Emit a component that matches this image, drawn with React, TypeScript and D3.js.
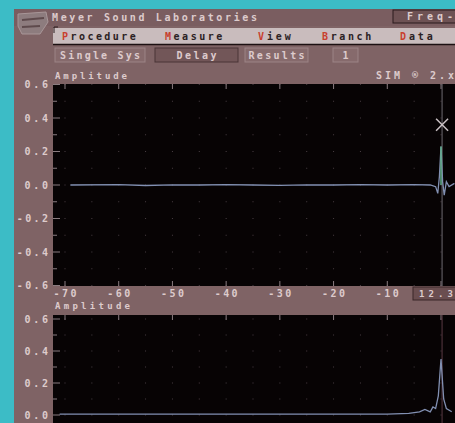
import React from "react";
import * as d3 from "d3";

const W = 455, H = 423;

const menuItems = ["Procedure", "Measure", "View", "Branch", "Data"];
const menuX = [62, 165, 258, 322, 400];
const buttons = ["Single Sys", "Delay", "Results", "1"];
const xTicks = [-70, -60, -50, -40, -30, -20, -10];
const yTicksTop = [0.6, 0.4, 0.2, 0.0, -0.2, -0.4, -0.6];
const yTicksBot = [0.6, 0.4, 0.2, 0.0];

// impulse response (top): time ms, amplitude
const impT = [-69, -60, -55, -50, -45, -40, -35, -30, -25, -20, -15, -10, -5, -2, -1, -0.6, -0.3, 0, 0.3, 0.6, 1, 1.5, 2.5];
const impA = [0.0, 0.002, -0.003, 0.001, 0.0, 0.002, 0.0, -0.002, 0.001, 0.0, 0.002, 0.0, 0.002, 0.0, -0.01, -0.05, 0.05, 0.23, 0.02, -0.06, 0.02, -0.01, 0.01];
// envelope (bottom)
const envT = [-71, -60, -50, -40, -30, -20, -10, -6, -4, -3, -2, -1.5, -1, -0.5, 0, 0.5, 1, 2];
const envA = [0.005, 0.005, 0.006, 0.005, 0.006, 0.005, 0.006, 0.01, 0.02, 0.035, 0.02, 0.05, 0.04, 0.12, 0.35, 0.1, 0.04, 0.02];
const cursorT = 0.2;
const markerA = 0.36;

const BG = "#7f6365";
const CYAN = "#3cbcc6";
const TXT = "#ddcbcc";
const FONT = "'DejaVu Sans Mono', monospace";

export default function App() {
  const x = d3.scaleLinear().domain([-70, 0]).range([65, 441]);
  const yT = d3.scaleLinear().domain([-0.6, 0.6]).range([285.5, 84.5]);
  const yB = d3.scaleLinear().domain([0, 0.6]).range([415, 319]);

  const lineT = d3.line<number>().x((_, i) => x(impT[i])).y((d) => yT(d));
  const lineB = d3.line<number>().x((_, i) => x(envT[i])).y((d) => yB(d));

  const gridXs = d3.range(-70, 1, 5);
  const gridYT = d3.range(-0.6, 0.61, 0.1);
  const gridYB = d3.range(0, 0.61, 0.1);

  const boxes = [
    { x: 55, w: 90 },
    { x: 155, w: 83 },
    { x: 245, w: 63 },
    { x: 333, w: 25 },
  ];

  const yLabel = (t: number) => (t < 0 ? "-" : "") + Math.abs(t).toFixed(1);

  return (
    <svg width={W} height={H} style={{ position: "absolute", left: 0, top: 0 }}>
      <rect x={0} y={0} width={W} height={H} fill={CYAN} />
      <rect x={14} y={9} width={W - 14} height={H - 9} fill={BG} />
      <rect x={14} y={9} width={W - 14} height={17} fill="#7a5d60" />
      {/* icon */}
      <path d="M18,14 L46,12 L48,22 L40,34 L22,34 L18,26 Z" fill="#8d7c7e" stroke="#a89698" strokeWidth={1} />
      <path d="M22,20 L44,18 M22,27 L40,26" stroke="#5e4a4c" strokeWidth={2} />
      <text x={52} y={21} fill={TXT} fontFamily={FONT} fontWeight="bold" fontSize={10} textLength={205} lengthAdjust="spacing">Meyer Sound Laboratories</text>
      <rect x={393} y={10} width={70} height={13} fill="#6e5254" stroke="#2a1a1c" strokeWidth={1} />
      <text x={407} y={20} fill={TXT} fontFamily={FONT} fontWeight="bold" fontSize={10} textLength={46} lengthAdjust="spacing">Freq-</text>

      {/* menu bar */}
      <rect x={53} y={28} width={W - 53} height={16} fill="#c9bcbd" />
      <line x1={53} y1={44.5} x2={W} y2={44.5} stroke="#1c1012" strokeWidth={1.5} />
      <path d="M54,33 L54,27 L58,27" stroke="#2a1a1c" fill="none" />
      {menuItems.map((m, i) => (
        <text key={m} x={menuX[i]} y={40} fontFamily={FONT} fontWeight="bold" fontSize={10} fill="#2c2224" textLength={m.length * 8.2} lengthAdjust="spacing">
          <tspan fill="#c8402e">{m[0]}</tspan>
          {m.slice(1)}
        </text>
      ))}

      {/* buttons */}
      {boxes.map((b, i) => (
        <g key={i}>
          <rect x={b.x} y={48} width={b.w} height={14} fill={i === 1 ? "#725658" : "#866a6c"} stroke={i === 1 ? "#4a3436" : "#9c8486"} strokeWidth={1} />
          <text x={b.x + b.w / 2} y={59} textAnchor="middle" fill={TXT} fontFamily={FONT} fontWeight="bold" fontSize={10}
            textLength={buttons[i].length * 8} lengthAdjust="spacing">{buttons[i]}</text>
        </g>
      ))}

      {/* top plot */}
      <text x={55} y={79} fill={TXT} fontFamily={FONT} fontWeight="bold" fontSize={9} textLength={72} lengthAdjust="spacing">Amplitude</text>
      <text x={376} y={79} fill={TXT} fontFamily={FONT} fontWeight="bold" fontSize={10} textLength={78} lengthAdjust="spacing">SIM ® 2.x</text>
      <rect x={53} y={84} width={W - 53} height={202} fill="#070304" />
      {gridXs.map((gx) =>
        gridYT.map((gy, j) => (
          <rect key={gx + "_" + j} x={x(gx) - 0.5} y={yT(gy) - 0.5} width={1} height={1} fill="#4a3f44" />
        ))
      )}
      {xTicks.concat([0]).map((t) => (
        <g key={"tt" + t}>
          <line x1={x(t)} x2={x(t)} y1={84} y2={89} stroke="#8a7c80" />
          <line x1={x(t)} x2={x(t)} y1={281} y2={286} stroke="#8a7c80" />
        </g>
      ))}
      {gridYT.map((gy, j) => (
        <line key={"yt" + j} x1={53} x2={j % 2 === 0 ? 60 : 57} y1={yT(gy)} y2={yT(gy)} stroke="#8a7c80" />
      ))}
      {yTicksTop.map((t) => {
        const s = yLabel(t);
        return (
          <text key={"yl" + t} x={48} y={yT(t) + 3.5} textAnchor="end" fill={TXT} fontFamily={FONT} fontWeight="bold" fontSize={10}
            textLength={s.length * 7.8} lengthAdjust="spacing">
            {s}
          </text>
        );
      })}
      <line x1={x(cursorT)} x2={x(cursorT)} y1={84} y2={286} stroke="#6f6a72" strokeWidth={1} />
      <path d={lineT(impA) || ""} fill="none" stroke="#8290b2" strokeWidth={1.3} />
      <line x1={x(0)} x2={x(0)} y1={yT(0)} y2={yT(0.23)} stroke="#5fae88" strokeWidth={1.5} />
      <g stroke="#c9c0c4" strokeWidth={1.5}>
        <line x1={x(cursorT) - 6} x2={x(cursorT) + 6} y1={yT(markerA) - 6} y2={yT(markerA) + 6} />
        <line x1={x(cursorT) - 6} x2={x(cursorT) + 6} y1={yT(markerA) + 6} y2={yT(markerA) - 6} />
      </g>

      {/* x axis labels */}
      {xTicks.map((t) => (
        <text key={"xl" + t} x={x(t)} y={297} textAnchor="middle" fill={TXT} fontFamily={FONT} fontWeight="bold" fontSize={10}
          textLength={23} lengthAdjust="spacing">
          {t}
        </text>
      ))}
      <rect x={413} y={287} width={50} height={13} fill="#6a4e50" stroke="#3a2628" />
      <text x={419} y={297} fill={TXT} fontFamily={FONT} fontWeight="bold" fontSize={9} textLength={34} lengthAdjust="spacing">12.3</text>

      {/* bottom plot */}
      <text x={55} y={309} fill={TXT} fontFamily={FONT} fontWeight="bold" fontSize={9} textLength={75} lengthAdjust="spacing">Amplitude</text>
      <rect x={53} y={315} width={W - 53} height={H - 315} fill="#070304" />
      {gridXs.map((gx) =>
        gridYB.map((gy, j) => (
          <rect key={"b" + gx + "_" + j} x={x(gx) - 0.5} y={yB(gy) - 0.5} width={1} height={1} fill="#4a3f44" />
        ))
      )}
      {xTicks.concat([0]).map((t) => (
        <line key={"bt" + t} x1={x(t)} x2={x(t)} y1={315} y2={320} stroke="#8a7c80" />
      ))}
      {gridYB.map((gy, j) => (
        <line key={"yb" + j} x1={53} x2={j % 2 === 0 ? 60 : 57} y1={yB(gy)} y2={yB(gy)} stroke="#8a7c80" />
      ))}
      {yTicksBot.map((t) => {
        const s = yLabel(t);
        return (
          <text key={"ybl" + t} x={48} y={yB(t) + 3.5} textAnchor="end" fill={TXT} fontFamily={FONT} fontWeight="bold" fontSize={10}
            textLength={s.length * 7.8} lengthAdjust="spacing">
            {s}
          </text>
        );
      })}
      <line x1={x(cursorT)} x2={x(cursorT)} y1={315} y2={H} stroke="#5a3a44" strokeWidth={1} />
      <path d={lineB(envA) || ""} fill="none" stroke="#8290b2" strokeWidth={1.3} />
    </svg>
  );
}
